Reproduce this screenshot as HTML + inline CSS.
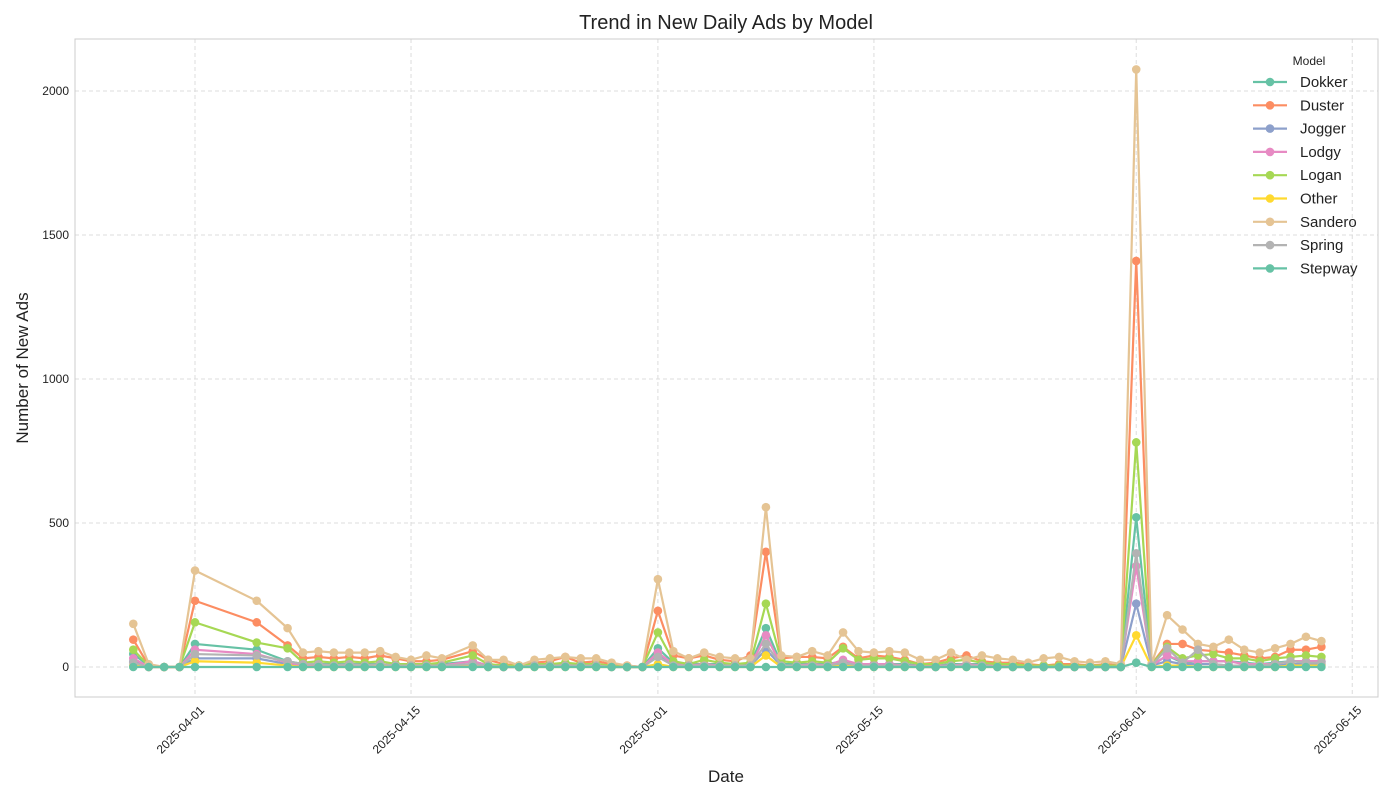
<!DOCTYPE html>
<html><head><meta charset="utf-8"><style>
body{margin:0;background:#fff;font-family:"Liberation Sans",sans-serif}
svg text{font-family:"Liberation Sans",sans-serif}
</style></head><body>
<svg id="c" width="1400" height="800"></svg>
<script>
const dates=["03-28","03-29","03-30","03-31","04-01","04-05","04-07","04-08","04-09","04-10","04-11","04-12","04-13","04-14","04-15","04-16","04-17"];
(function(){for(let d=19;d<=30;d++)dates.push("04-"+String(d).padStart(2,"0"));for(let d=1;d<=31;d++)dates.push("05-"+String(d).padStart(2,"0"));for(let d=1;d<=13;d++)dates.push("06-"+String(d).padStart(2,"0"));})();
const models=["Dokker","Duster","Jogger","Lodgy","Logan","Other","Sandero","Spring","Stepway"];
const colors=["#66c2a5","#fc8d62","#8da0cb","#e78ac3","#a6d854","#ffd92f","#e5c494","#b3b3b3","#66c2a5"];
const dokker=[45,5,0,0,80,60,20,10,10,10,10,10,10,5,5,5,10,20,5,5,5,5,5,10,5,5,5,0,0,65,15,10,10,10,5,10,135,10,10,10,10,20,10,10,10,10,5,5,10,10,10,5,5,5,5,5,5,5,5,5,520,5,40,15,20,20,20,15,10,15,20,20,20];
const duster=[95,5,0,0,230,155,75,30,35,30,35,30,40,30,20,20,25,55,25,10,5,15,20,35,15,20,10,5,0,195,40,30,40,25,20,40,400,30,35,35,30,70,30,40,35,25,10,15,30,40,20,15,15,10,5,10,10,5,10,5,1410,10,80,80,60,55,50,40,30,35,60,60,70];
const jogger=[20,0,0,0,30,30,10,5,5,5,5,5,5,5,0,5,5,10,0,0,0,5,5,5,5,5,0,0,0,40,5,5,5,5,5,5,60,5,5,5,5,10,5,5,5,5,0,0,5,5,5,0,0,0,0,0,0,0,0,0,220,5,20,10,10,10,5,5,5,5,10,10,10];
const lodgy=[30,0,0,0,60,45,15,5,10,5,10,5,10,5,5,5,5,20,5,0,0,5,5,10,5,5,5,0,0,50,10,5,10,5,5,5,110,5,5,10,5,25,10,10,10,5,5,5,5,10,5,5,5,0,0,0,0,0,0,0,350,5,40,20,20,20,20,10,10,10,20,20,20];
const logan=[60,5,0,0,155,85,65,15,20,15,20,15,20,10,10,10,15,40,10,5,5,10,10,15,10,10,5,0,0,120,20,10,25,15,10,15,220,20,15,20,15,65,25,30,30,20,10,10,20,25,15,10,10,5,5,5,5,5,5,5,780,10,70,30,40,45,30,30,20,30,35,40,35];
const other=[5,0,0,0,20,15,5,0,0,0,0,0,5,0,0,0,0,5,0,0,0,0,0,0,0,0,0,0,0,10,0,0,5,0,0,0,40,0,0,0,0,5,0,0,0,0,0,0,0,0,0,0,0,0,0,0,0,0,0,0,110,0,5,5,0,0,0,0,0,0,5,5,5];
const sandero=[150,10,0,0,335,230,135,50,55,50,50,50,55,35,25,40,30,75,25,25,5,25,30,35,30,30,15,5,0,305,55,30,50,35,30,30,555,40,35,55,40,120,55,50,55,50,25,25,50,25,40,30,25,15,30,35,20,15,20,10,2075,10,180,130,80,70,95,60,50,65,80,105,90];
const spring=[15,0,0,0,45,40,20,10,10,5,10,5,10,5,5,5,5,10,5,0,0,5,5,5,5,5,0,0,0,35,5,5,5,5,5,5,80,5,5,5,5,15,5,5,5,5,0,0,5,5,5,0,0,0,0,0,0,0,0,0,395,5,65,15,60,10,5,5,5,10,20,15,15];
const stepway=[0,0,0,0,0,0,0,0,0,0,0,0,0,0,0,0,0,0,0,0,0,0,0,0,0,0,0,0,0,0,0,0,0,0,0,0,0,0,0,0,0,0,0,0,0,0,0,0,0,0,0,0,0,0,0,0,0,0,0,0,15,0,0,0,0,0,0,0,0,0,0,0,0];
const series=[dokker,duster,jogger,lodgy,logan,other,sandero,spring,stepway];
const yTicks=[0,500,1000,1500,2000];
const xTicks=["2025-04-01","2025-04-15","2025-05-01","2025-05-15","2025-06-01","2025-06-15"];

const NS="http://www.w3.org/2000/svg",svg=document.getElementById("c");
function mk(t,a,p){const e=document.createElementNS(NS,t);for(const k in a)e.setAttribute(k,a[k]);(p||svg).appendChild(e);return e;}
const L=75,R=1378,T=39,B=697;
const base=Date.UTC(2025,3,1);
function dayOf(s){const m=+s.slice(5,7),d=+s.slice(8,10);return (Date.UTC(2025,m-1,d)-base)/864e5;}
function xs(dstr){return 195+dayOf(dstr)*15.43;}
function ys(v){return 667-v*0.288;}

const grid=mk("g",{});


yTicks.forEach(v=>{const y=ys(v);
 mk("line",{x1:L,x2:R,y1:y,y2:y,stroke:"#dcdcdc","stroke-dasharray":"4,3","stroke-width":1},grid);
 const t=mk("text",{x:69,y:y+4,"text-anchor":"end","font-size":12,fill:"#222"});t.textContent=v;
 
 
});
xTicks.forEach(s=>{const x=xs(s);
 mk("line",{x1:x,x2:x,y1:T,y2:B,stroke:"#dcdcdc","stroke-dasharray":"4,3","stroke-width":1},grid);
 const t=mk("text",{transform:`translate(${x+4},${B+8}) rotate(-45)`,"text-anchor":"end","font-size":12,fill:"#222",dy:"0.7em"});t.textContent=s;
 
 
});
const frame=mk("rect",{x:L,y:T,width:R-L,height:B-T,fill:"none",stroke:"#cccccc"});



series.forEach((vals,i)=>{
 const g=mk("g",{});
 
 
 const pts=vals.map((v,j)=>xs("2025-"+dates[j])+","+ys(v)).join(" ");
 mk("polyline",{points:pts,fill:"none",stroke:colors[i],"stroke-width":2.2,"stroke-linejoin":"round"},g);
 vals.forEach((v,j)=>{const c=mk("circle",{cx:xs("2025-"+dates[j]),cy:ys(v),r:4.3,fill:colors[i]},g);
  
  
 });
});

const tt=mk("text",{x:726,y:29,"text-anchor":"middle","font-size":20,fill:"#222"});tt.textContent="Trend in New Daily Ads by Model";


const yl=mk("text",{transform:"translate(28,368) rotate(-90)","text-anchor":"middle","font-size":17,fill:"#222"});yl.textContent="Number of New Ads";


const xl=mk("text",{x:726,y:782,"text-anchor":"middle","font-size":17,fill:"#222"});xl.textContent="Date";



const lg=mk("g",{});


const lt=mk("text",{x:1309,y:65,"text-anchor":"middle","font-size":12,fill:"#222"},lg);lt.textContent="Model";
models.forEach((m,i)=>{const y=82+i*23.3;
 const e=mk("g",{},lg);
 
 
 mk("line",{x1:1253,x2:1287,y1:y,y2:y,stroke:colors[i],"stroke-width":2.2},e);
 mk("circle",{cx:1270,cy:y,r:4.3,fill:colors[i]},e);
 const t=mk("text",{x:1300,y:y+5,"font-size":15,fill:"#222"},e);t.textContent=m;
});
</script>
</body></html>
